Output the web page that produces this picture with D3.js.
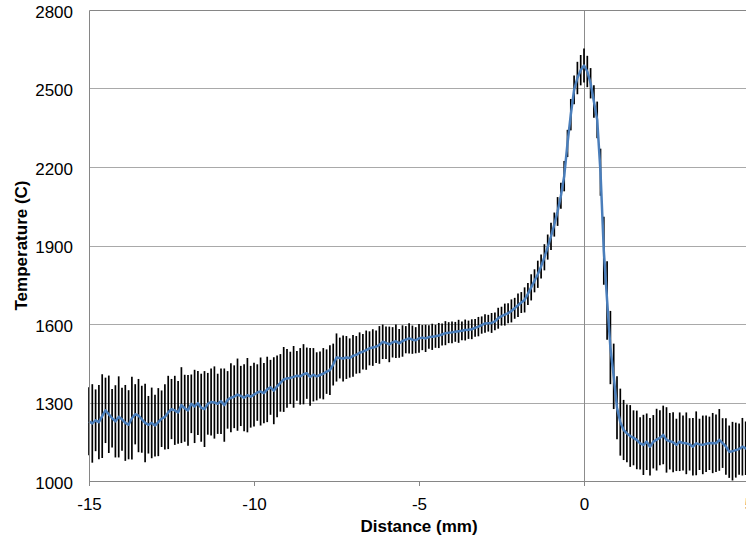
<!DOCTYPE html>
<html>
<head>
<meta charset="utf-8">
<script src="https://cdn.jsdelivr.net/npm/d3@7"></script>
<style>
  body { margin: 0; background: #fff; }
  text { font-family: "Liberation Sans", Arial, sans-serif; fill: #000; }
</style>
</head>
<body>
<div id="chart"></div>
<script>
// samples every 0.1 mm, from -15 mm to 5 mm
const startMm = -15
const stepMm = 0.1

// mean temperature (C), one row per mm
const meanTemp = [
  1228, 1220, 1232, 1225, 1248, 1270, 1255, 1240, 1228, 1245,
  1236, 1222, 1215, 1240, 1255, 1250, 1236, 1222, 1215, 1222,
  1212, 1225, 1238, 1245, 1262, 1275, 1270, 1262, 1290, 1278,
  1270, 1295, 1285, 1298, 1280, 1275, 1295, 1302, 1300, 1295,
  1305, 1290, 1310, 1318, 1322, 1330, 1325, 1318, 1328, 1322,
  1330, 1338, 1342, 1336, 1350, 1358, 1345, 1362, 1375, 1388,
  1392, 1394, 1398, 1402, 1400, 1408, 1412, 1398, 1406, 1400,
  1405, 1410, 1418, 1424, 1445, 1472, 1470, 1468, 1472, 1470,
  1478, 1482, 1490, 1494, 1500, 1507, 1510, 1513, 1520, 1532,
  1528, 1522, 1530, 1534, 1526, 1535, 1540, 1545, 1540, 1538,
  1545, 1548, 1545, 1550, 1551, 1553, 1556, 1560, 1565, 1567,
  1568, 1570, 1572, 1574, 1577, 1578, 1580, 1585, 1590, 1596,
  1602, 1603, 1604, 1610, 1622, 1630, 1636, 1641, 1650, 1660,
  1672, 1682, 1692, 1715, 1740, 1765, 1790, 1820, 1855, 1894,
  1935, 1980, 2030, 2090, 2165, 2290, 2400, 2495, 2540, 2570,
  2588, 2565, 2520, 2450, 2380, 2180, 1880, 1690, 1510, 1400,
  1280, 1225, 1195, 1182, 1172, 1165, 1157, 1144, 1138, 1150,
  1131, 1150, 1158, 1165, 1176, 1157, 1152, 1148, 1138, 1150,
  1145, 1144, 1140, 1131, 1144, 1140, 1138, 1142, 1144, 1145,
  1144, 1157, 1145, 1132, 1112, 1114, 1118, 1122, 1131, 1125,
  1120
]

// error bar half-length (C)
const errTemp = [
  130, 150, 118, 142, 160, 125, 148, 112, 138, 155,
  120, 145, 132, 158, 115, 140, 128, 150, 110, 135,
  118, 130, 108, 125, 140, 115, 132, 120, 145, 128,
  135, 112, 140, 122, 130, 145, 118, 128, 138, 115,
  125, 140, 110, 132, 120, 138, 115, 128, 142, 118,
  122, 108, 130, 115, 125, 105, 128, 118, 110, 124,
  112, 100, 118, 95, 108, 115, 98, 110, 102, 92,
  90, 98, 85, 95, 80, 92, 78, 88, 82, 75,
  80, 72, 78, 68, 75, 65, 70, 62, 72, 66,
  62, 68, 58, 64, 55, 60, 52, 58, 54, 50,
  55, 48, 52, 45, 50, 44, 48, 42, 46, 40,
  42, 38, 44, 36, 40, 35, 38, 34, 37, 33,
  35, 32, 38, 34, 40, 36, 42, 38, 44, 40,
  45, 40, 48, 42, 50, 44, 52, 46, 50, 48,
  52, 46, 55, 50, 58, 52, 60, 55, 62, 58,
  65, 60, 58, 62, 70, 90, 130, 150, 140, 125,
  120, 128, 115, 110, 118, 105, 112, 100, 115, 108,
  110, 102, 118, 105, 112, 125, 108, 115, 100, 112,
  105, 118, 100, 110, 122, 98, 112, 108, 102, 115,
  110, 118, 95, 108, 100, 112, 105, 98, 110, 102,
  105
]

const xTicks = [-15, -10, -5, 0, 5]
const yTicks = [1000, 1300, 1600, 1900, 2200, 2500, 2800]

const margin = {top: 10, left: 89}
const width = 660
const height = 471

const data = meanTemp.map((t, i) => ({
  d: startMm + i * stepMm,
  t: t,
  e: errTemp[i]
}))

const x = d3.scaleLinear().domain([-15, 5]).range([0, width])
const y = d3.scaleLinear().domain([1000, 2800]).range([height, 0])

const svg = d3.select('#chart')
  .append('svg')
    .attr('width', 746)
    .attr('height', 539)

const g = svg.append('g')
  .attr('transform', `translate(${margin.left}, ${margin.top})`)

// horizontal gridlines
g.selectAll('.grid')
  .data(yTicks.slice(1, -1))
  .enter()
    .append('line')
      .attr('class', 'grid')
      .attr('x1', 0)
      .attr('x2', width)
      .attr('y1', d => Math.round(y(d)) + 0.5)
      .attr('y2', d => Math.round(y(d)) + 0.5)
      .attr('stroke', '#a9a9a9')
      .attr('stroke-width', 1)

// zero line
g.append('line')
  .attr('x1', Math.round(x(0)) + 0.5)
  .attr('x2', Math.round(x(0)) + 0.5)
  .attr('y1', 0)
  .attr('y2', height + 5)
  .attr('stroke', '#8c8c8c')

// error bars
g.selectAll('.err')
  .data(data)
  .enter()
    .append('line')
      .attr('class', 'err')
      .attr('x1', d => x(d.d))
      .attr('x2', d => x(d.d))
      .attr('y1', d => y(d.t + d.e))
      .attr('y2', d => y(d.t - d.e))
      .attr('stroke', '#000')
      .attr('stroke-width', 1.7)

// mean line
const line = d3.line()
  .x(d => x(d.d))
  .y(d => y(d.t))

g.append('path')
  .datum(data)
  .attr('d', line)
  .attr('fill', 'none')
  .attr('stroke', '#4a7ebb')
  .attr('stroke-width', 2.5)
  .attr('stroke-linejoin', 'round')

// plot border (top and left)
g.append('path')
  .attr('d', `M0.5,${height} V0.5 H${width}`)
  .attr('fill', 'none')
  .attr('stroke', '#868686')

// x axis
const xAxis = g.append('g')
  .attr('transform', `translate(0, ${height})`)
  .call(d3.axisBottom(x)
    .tickValues(xTicks)
    .tickFormat(d => String(d))
    .tickSize(5)
    .tickSizeOuter(0)
    .tickPadding(12))
xAxis.select('.domain').attr('stroke', '#868686')
xAxis.selectAll('.tick line').attr('stroke', '#868686')
xAxis.selectAll('text')
  .attr('font-size', 17)
  .attr('font-family', '"Liberation Sans", Arial, sans-serif')

// y axis labels
const yAxis = g.append('g')
  .call(d3.axisLeft(y)
    .tickValues(yTicks)
    .tickFormat(d => String(d))
    .tickSize(0)
    .tickPadding(16))
yAxis.select('.domain').remove()
yAxis.selectAll('text')
  .attr('dy', '0.42em')
  .attr('font-size', 17)
  .attr('font-family', '"Liberation Sans", Arial, sans-serif')

// titles
svg.append('text')
  .attr('transform', `translate(27, ${margin.top + height / 2}) rotate(-90)`)
  .attr('text-anchor', 'middle')
  .attr('font-size', 17)
  .attr('font-weight', 'bold')
  .text('Temperature (C)')

svg.append('text')
  .attr('x', margin.left + width / 2)
  .attr('y', 532)
  .attr('text-anchor', 'middle')
  .attr('font-size', 17)
  .attr('font-weight', 'bold')
  .text('Distance (mm)')
</script>
</body>
</html>
